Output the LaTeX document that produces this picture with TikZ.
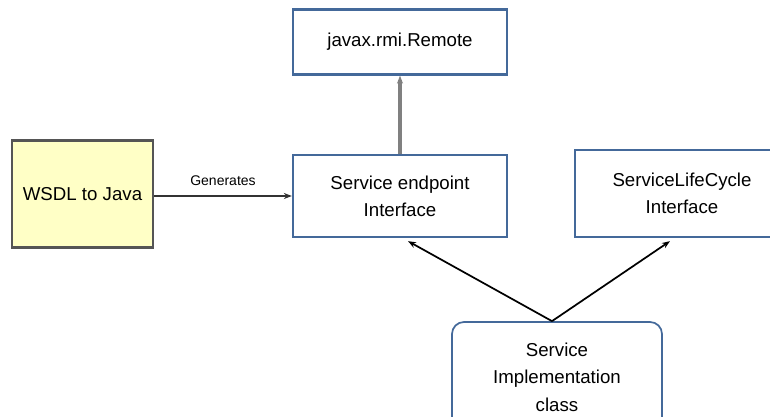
\documentclass[tikz,border=0pt]{standalone}
\usepackage{fontspec}
\setmainfont{Liberation Sans}
\usetikzlibrary{arrows.meta,calc}
\definecolor{boxblue}{HTML}{44699A}
\definecolor{wsdlfill}{HTML}{FFFFC6}
\definecolor{wsdlline}{HTML}{555555}
\tikzset{
  txt/.style={font=\fontsize{14}{20.5}\selectfont, align=center},
  classbox/.style={txt, draw=boxblue, line width=1.7pt, fill=white, inner sep=0pt},
  toolbox/.style={txt, draw=wsdlline, line width=1.7pt, fill=wsdlfill, inner sep=0pt},
  implbox/.style={txt, draw=boxblue, line width=1.3pt, rounded corners=9pt, fill=white, inner sep=0pt},
  tip/.style={-{Stealth[length=6pt,width=4.5pt]}},
  genarrow/.style={tip, draw=black!80, line width=2.2pt},
  extarrow/.style={tip, draw=black!50, line width=2.6pt},
  implarrow/.style={tip, draw=black, line width=1.3pt},
}
\begin{document}
\begin{tikzpicture}[x=0.75pt,y=-0.75pt]
  \useasboundingbox (0,0) rectangle (770,417);
  \clip (0,0) rectangle (770,417);

  % boxes (centre, size in px)
  \node[classbox, minimum width=214*0.75pt, minimum height=65*0.75pt]
    (remote) at (400,42) {javax.rmi.Remote};
  \node[classbox, minimum width=214*0.75pt, minimum height=82*0.75pt]
    (sei) at (400,196) {Service endpoint\\Interface};
  \node[toolbox, minimum width=141*0.75pt, minimum height=107*0.75pt]
    (wsdl) at (82.5,194) {WSDL to Java};
  \node[classbox, minimum width=214*0.75pt, minimum height=87*0.75pt]
    (slc) at (682,193.5) {ServiceLifeCycle\\Interface};
  \node[implbox, minimum width=210*0.75pt, minimum height=110*0.75pt]
    (impl) at (557,377) {Service\\Implementation\\class};

  % attachment points of the implementation arrows
  \coordinate (seiin) at ($(sei.south)+(8,3)$);
  \coordinate (slcin) at ($(slc.south)+(-12,3)$);
  \coordinate (implout) at ($(impl.north)+(-5,0)$);

  % connectors
  \draw[genarrow] (wsdl.east |- sei.west) -- node[above=3pt, font=\fontsize{10.5}{12}\selectfont] {Generates} (sei.west);
  \draw[extarrow] (sei.north) -- (remote.south);
  \draw[implarrow] (implout) -- (seiin);
  \draw[implarrow] (implout) -- (slcin);
\end{tikzpicture}
\end{document}
